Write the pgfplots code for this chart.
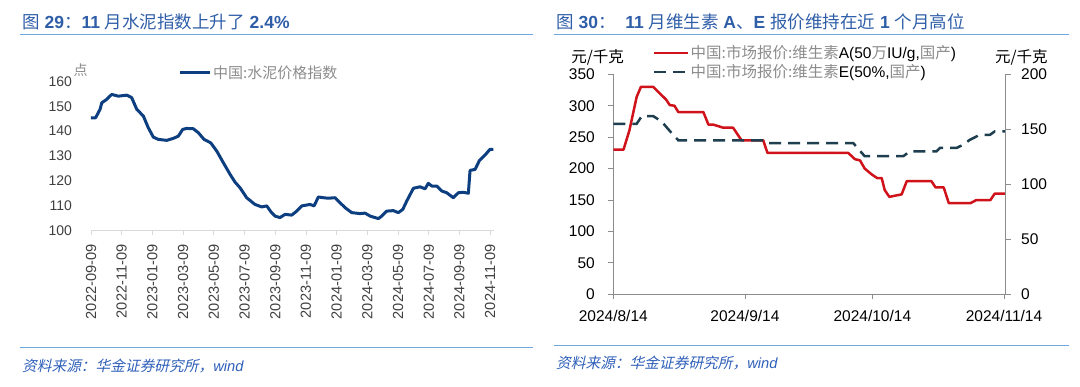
\documentclass[border=0pt]{standalone}
\usepackage{pgfplots}
\pgfplotsset{compat=1.18}
\usepackage{fontspec}
\setmainfont{Liberation Sans}
\newfontfamily\cjk{Noto Sans CJK SC}
\newfontfamily\cjkit[FakeSlant=0.22]{Noto Sans CJK SC}
\definecolor{ttlblue}{HTML}{2F5EA8}
\definecolor{rulblue}{HTML}{6FA8DC}
\definecolor{srcblue}{HTML}{2F5FB8}
\definecolor{cementblue}{HTML}{0D3F80}
\definecolor{vared}{HTML}{D0121B}
\definecolor{vedark}{HTML}{1F3F50}
\definecolor{lgray}{HTML}{8C8C8C}
\definecolor{axgray}{HTML}{D9D9D9}
\definecolor{txgray}{HTML}{404040}

\pgfplotstableread{
m v
0 145.4
0.3 145.4
0.59 148.8
0.70 151.4
1.02 152.8
1.35 154.8
1.78 154.1
2.33 154.5
2.65 153.5
2.98 148.8
3.41 146.1
3.73 141.4
4.06 137.6
4.38 136.7
4.93 136.3
5.36 137.1
5.69 138.0
5.97 140.7
6.23 141.1
6.66 141.0
6.99 139.4
7.36 136.7
7.80 135.3
8.19 132.0
8.62 127.3
9.06 122.6
9.38 119.5
9.71 117.2
10.14 113.2
10.68 110.5
11.12 109.5
11.45 109.9
11.71 107.6
11.99 105.8
12.31 105.2
12.64 106.5
13.07 106.2
13.40 107.8
13.73 109.9
14.27 110.5
14.53 109.9
14.81 113.5
15.13 113.2
15.46 113.0
15.90 113.2
16.22 111.2
16.55 109.2
16.98 107.2
17.52 106.8
17.85 107.0
18.18 105.8
18.72 104.8
18.94 105.8
19.26 107.8
19.69 108.0
20.02 107.2
20.31 108.5
20.57 111.9
21.00 117.0
21.43 117.6
21.76 116.8
21.97 119.0
22.20 117.9
22.52 117.9
22.85 115.9
23.17 115.2
23.60 113.2
23.93 115.2
24.25 115.4
24.58 115.0
24.69 124.2
25.02 124.6
25.30 128.2
25.67 130.4
25.99 132.7
26.21 132.7
}\cement

\pgfplotstableread{
d v
0 230
2.4 230
3.8 261
5.5 314
6.5 330
9.4 330
10.6 322
12.4 310
13.3 301
14.4 300
15.3 290
21.2 290
22.4 270
23.5 270
25.9 265
28.2 265
30.2 245
35.3 245
36.3 225
55.3 225
56.9 215
58.1 213
59.2 200
60.8 191
62.1 185
63.2 185
63.9 166
65.0 155
67.9 159
69.1 180
74.9 180
75.9 170
77.8 170
79.0 145
84.1 145
85.5 150
88.8 150
89.8 160
92.2 160
}\vitA

\pgfplotstableread{
d v
0 155
5.5 155
6.7 162
9.4 162
11.4 157
13.3 148.5
15.3 140
35.8 140
36.6 137.5
56.5 137.5
59.2 125.5
68.3 125.5
69.8 130
76.1 130
76.9 133
80.8 133
82.4 136
83.9 140.3
86.3 145
88.7 145
89.8 148
92.2 148
}\vitE

\begin{document}
\begin{tikzpicture}
\path[use as bounding box] (0,0) rectangle (1080pt,-387pt);

% ---------- titles and rules ----------
\node[anchor=west, inner sep=0, text=ttlblue, font=\fontsize{17.5}{20}\selectfont] at (22pt,-22pt)
  {{\cjk 图} \textbf{29}{\cjk ：}\textbf{11} {\cjk 月水泥指数上升了} \textbf{2.4\%}};
\draw[rulblue, line width=1.5pt] (20pt,-34.6pt) -- (533pt,-34.6pt);
\node[anchor=west, inner sep=0, text=ttlblue, font=\fontsize{17.5}{20}\selectfont] at (556pt,-22pt)
  {{\cjk 图} \textbf{30}{\cjk ：}\ \ \textbf{11} {\cjk 月维生素} \textbf{A}{\cjk 、}\textbf{E} {\cjk 报价维持在近} \textbf{1} {\cjk 个月高位}};
\draw[rulblue, line width=1.5pt] (554pt,-34.6pt) -- (1069pt,-34.6pt);

\draw[rulblue, line width=1pt] (20pt,-348pt) -- (533pt,-348pt);
\draw[rulblue, line width=1pt] (554pt,-346pt) -- (1069pt,-346pt);
\node[anchor=west, inner sep=0, text=srcblue, font=\fontsize{14.7}{17}\selectfont] at (22pt,-366pt)
  {{\cjkit 资料来源：华金证券研究所，}\textit{wind}};
\node[anchor=west, inner sep=0, text=srcblue, font=\fontsize{14.7}{17}\selectfont] at (556pt,-363pt)
  {{\cjkit 资料来源：华金证券研究所，}\textit{wind}};

% ---------- left chart ----------
\begin{axis}[
  at={(91pt,-230.5pt)}, anchor=south west, scale only axis,
  width=403pt, height=149pt,
  xmin=0, xmax=26.25, ymin=100, ymax=160,
  axis lines*=left,
  x axis line style={axgray, line width=0.8pt},
  y axis line style={draw=none},
  xtick={0,2,...,26},
  xticklabels={2022-09-09,2022-11-09,2023-01-09,2023-03-09,2023-05-09,2023-07-09,2023-09-09,2023-11-09,2024-01-09,2024-03-09,2024-05-09,2024-07-09,2024-09-09,2024-11-09},
  x tick style={axgray, line width=0.8pt},
  tick align=outside, major tick length=4.5pt,
  xticklabel style={rotate=90, anchor=east, text=txgray, font=\fontsize{14.6}{16}\selectfont, xshift=-6pt},
  ytick={100,110,...,160},
  y tick style={draw=none},
  yticklabel style={text=txgray, font=\fontsize{14}{16}\selectfont, xshift=-11pt},
  /pgf/number format/assume math mode=true,
  clip=false,
  legend style={at={(0.216,1.058)}, anchor=west, draw=none, fill=none, inner sep=0pt,
    font=\fontsize{15}{17}\selectfont, text=lgray, nodes={inner sep=2pt}},
  legend image code/.code={\draw[#1] (0pt,0pt) -- (30pt,0pt);},
]
\addplot[cementblue, line width=3pt, line join=round] table[x=m, y=v] {\cement};
\addlegendentry{\cjk 中国:水泥价格指数}
\node[anchor=center, text=lgray, font=\fontsize{14}{16}\cjk] at (rel axis cs:-0.026,1.078) {点};
\end{axis}

% ---------- right chart ----------
\begin{axis}[
  at={(613.3pt,-294.3pt)}, anchor=south west, scale only axis,
  width=392.4pt, height=220pt,
  xmin=0, xmax=92.4, ymin=0, ymax=350,
  axis x line*=bottom, axis y line*=left,
  axis line style={lgray, line width=0.9pt},
  tick style={lgray, line width=0.9pt},
  tick align=outside, major tick length=5pt,
  xtick={0,31,61,92},
  xticklabels={2024/8/14,2024/9/14,2024/10/14,2024/11/14},
  xticklabel style={font=\fontsize{15.5}{18}\selectfont, yshift=-7pt},
  ytick={0,50,...,350},
  yticklabel style={font=\fontsize{15.5}{18}\selectfont, xshift=-10pt},
  /pgf/number format/assume math mode=true,
  clip=false,
  legend style={at={(0.1,1.054)}, anchor=west, draw=none, fill=none, inner sep=0pt,
    font=\fontsize{15.5}{18}\selectfont, nodes={inner sep=1.5pt}, row sep=1.5pt},
  legend cell align=left,
  legend image code/.code={\draw[#1] (0pt,0pt) -- (34pt,0pt);},
]
\addplot[vared, line width=2.5pt, line join=round] table[x=d, y=v] {\vitA};
\addlegendentry{{\cjk\color{lgray}中国:市场报价:维生素}A(50{\cjk\color{lgray}万}IU/g,{\cjk\color{lgray}国产})}
\addlegendimage{vedark, line width=2.5pt, dash pattern=on 12pt off 7pt}
\addlegendentry{{\cjk\color{lgray}中国:市场报价:维生素}E(50\%,{\cjk\color{lgray}国产})}
\node[anchor=center, font=\fontsize{15.5}{18}\cjk] at (rel axis cs:-0.04,1.075) {元/千克};
\end{axis}
\begin{axis}[
  at={(613.3pt,-294.3pt)}, anchor=south west, scale only axis,
  width=392.4pt, height=220pt,
  xmin=0, xmax=92.4, ymin=0, ymax=200,
  axis x line=none, axis y line*=right,
  axis line style={lgray, line width=0.9pt},
  tick style={lgray, line width=0.9pt},
  tick align=outside, major tick length=5pt,
  ytick={0,50,...,200},
  yticklabel style={font=\fontsize{15.5}{18}\selectfont, xshift=7pt},
  /pgf/number format/assume math mode=true,
  clip=false,
]
\addplot[vedark, line width=2.5pt, dash pattern=on 12pt off 7pt] table[x=d, y=v] {\vitE};
\node[anchor=center, font=\fontsize{15.5}{18}\cjk] at (rel axis cs:1.04,1.075) {元/千克};
\end{axis}
\end{tikzpicture}
\end{document}
